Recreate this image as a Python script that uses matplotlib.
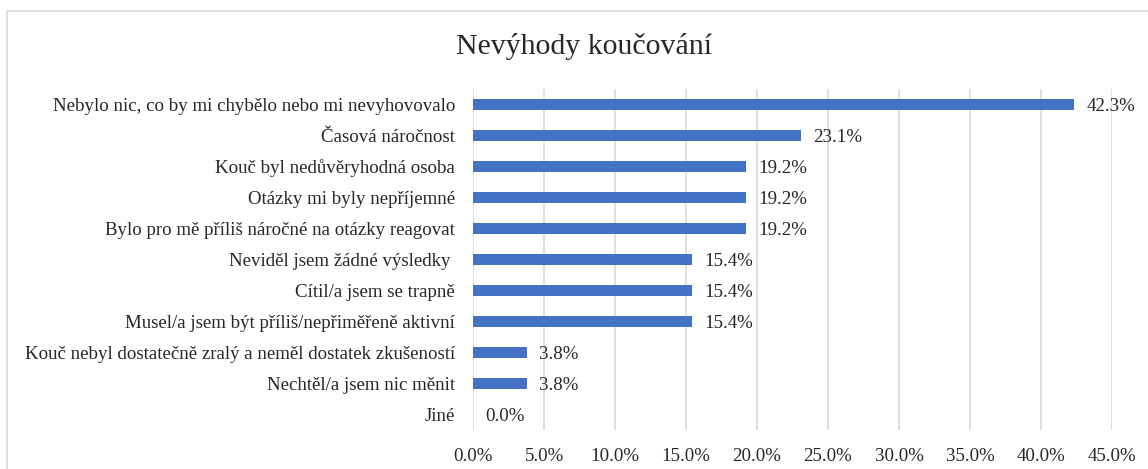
import matplotlib
matplotlib.use("Agg")
import matplotlib.pyplot as plt
from matplotlib.patches import Rectangle
from matplotlib.ticker import FuncFormatter, MultipleLocator

categories = [
    "Nebylo nic, co by mi chybělo nebo mi nevyhovovalo",
    "Časová náročnost",
    "Kouč byl nedůvěryhodná osoba",
    "Otázky mi byly nepříjemné",
    "Bylo pro mě příliš náročné na otázky reagovat",
    "Neviděl jsem žádné výsledky ",
    "Cítil/a jsem se trapně",
    "Musel/a jsem být příliš/nepřiměřeně aktivní",
    "Kouč nebyl dostatečně zralý a neměl dostatek zkušeností",
    "Nechtěl/a jsem nic měnit",
    "Jiné",
]
values = [42.3, 23.1, 19.2, 19.2, 19.2, 15.4, 15.4, 15.4, 3.8, 3.8, 0.0]
title = "Nevýhody koučování"

plt.rcParams['font.family'] = ['Liberation Serif', 'DejaVu Serif']

W, H = 1148, 469
fig = plt.figure(figsize=(W / 100, H / 100), dpi=100)
fig.patches.append(Rectangle((7 / W, -0.1), 1.2, 1 - 11 / H + 0.1,
                             transform=fig.transFigure, fill=False,
                             edgecolor="#d9d9d9", linewidth=1.2))

ax = fig.add_axes([473 / W, 1 - 430 / H, (1112 - 473) / W, (430 - 89) / H])
ypos = list(range(len(categories)))
ax.barh(ypos, values, height=0.37, color="#4472C4", zorder=3)
ax.set_ylim(len(categories) - 0.5, -0.5)
ax.set_xlim(0, 45)
ax.xaxis.set_major_locator(MultipleLocator(5))
ax.xaxis.set_major_formatter(FuncFormatter(lambda v, p: f"{v:.1f}%"))
ax.set_yticks(ypos)
ax.set_yticklabels(categories)
ax.tick_params(axis="both", length=0, labelsize=13.6, colors="#262626")
ax.tick_params(axis="y", pad=13)
ax.tick_params(axis="x", pad=13)
ax.grid(axis="x", color="#d9d9d9", linewidth=1.2, zorder=0)
for s in ax.spines.values():
    s.set_visible(False)

for y, v in zip(ypos, values):
    ax.annotate(f"{v:.1f}%", (v, y), xytext=(9, 0), textcoords="offset points",
                va="center_baseline", ha="left", fontsize=13.6, color="#262626")

fig.text(584 / W, 1 - 47 / H, title, ha="center", va="center", fontsize=21.5, color="#262626")

fig.savefig("out.png", dpi=100)
